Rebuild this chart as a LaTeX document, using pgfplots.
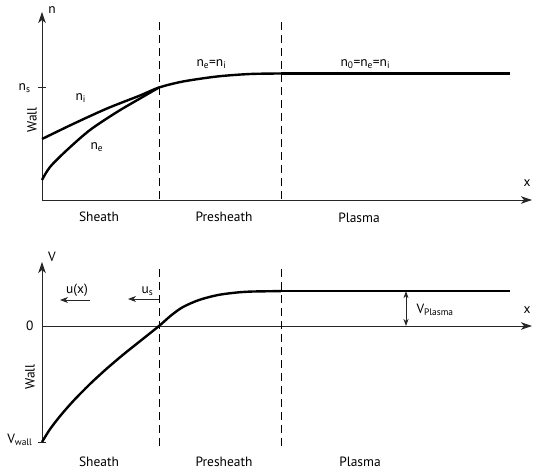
\documentclass[border=0pt]{standalone}
\usepackage{pgfplots}
\pgfplotsset{compat=1.18}
\usetikzlibrary{arrows.meta}
\usepackage{fontspec}
\setmainfont{PT Sans}
\begin{document}
\begin{tikzpicture}[font=\fontsize{13.5}{15}\selectfont]
\useasboundingbox (0,0) rectangle (534bp,-470bp);
\pgfplotsset{
  sk/.style={x=1bp, y=1bp, scale only axis, clip=false, axis lines=middle,
    xtick=\empty, ytick=\empty, xmin=0, xmax=490,
    axis line style={line width=0.9bp, black!85, -{Stealth[length=11bp,width=7.5bp,inset=3bp]}},
    anchor=origin},
  curve/.style={line width=2.4bp, black, no marks, smooth},
  dsh/.style={line width=1bp, black, no marks, dash pattern=on 8bp off 5bp},
  tk/.style={line width=0.9bp, black!85, no marks},
}
% ---------- top panel ----------
\begin{axis}[sk, at={(42bp,-200bp)}, ymin=0, ymax=188]
\addplot[dsh] coordinates {(117,178) (117,0)};
\addplot[dsh] coordinates {(239,178) (239,0)};
\addplot[tk] coordinates {(-4,112.5) (4,112.5)};
% n_i and presheath
\addplot[curve] coordinates {(0,61) (31,76) (65,91.5) (98,104.5) (117,112.5) (141,118.5) (175,123.5) (208,126) (239,126.5)};
% n_e
\addplot[curve] coordinates {(0,20) (8,33) (25,50) (48,70) (75,88) (98,101.5) (117,112.5)};
\addplot[line width=2.4bp, black, no marks] coordinates {(239,126.5) (468,126.5)};
\node at (axis cs:10,190) {n};
\node[anchor=base east] at (axis cs:-8,110) {n\textsubscript{s}};
\node[anchor=base west] at (axis cs:30,100) {n\textsubscript{i}};
\node[anchor=base west] at (axis cs:45,51) {n\textsubscript{e}};
\node[rotate=90] at (axis cs:-10,80) {Wall};
\node[anchor=base west] at (axis cs:151,134) {n\textsubscript{e}=n\textsubscript{i}};
\node[anchor=base west] at (axis cs:295,134) {n\textsubscript{0}=n\textsubscript{e}=n\textsubscript{i}};
\node at (axis cs:485,17) {x};
\node at (axis cs:57,-17) {Sheath};
\node at (axis cs:182,-17) {Presheath};
\node at (axis cs:317,-18) {Plasma};
\end{axis}
% ---------- bottom panel ----------
\begin{axis}[sk, at={(42bp,-326bp)}, ymin=-116, ymax=64]
\addplot[dsh] coordinates {(117,57) (117,-120)};
\addplot[dsh] coordinates {(239,57) (239,-120)};
\addplot[tk] coordinates {(-4,-116) (4,-116)};
\addplot[curve] coordinates {(0,-116) (8,-103.2) (18,-90.2) (31,-75.3) (48,-58.0) (65,-42.4) (81,-28.8) (98,-15.2) (117,0) (129,10.5) (141,19) (157,26) (175,30.8) (191,33.1) (208,34.4) (239,34.9)};
\addplot[line width=2.4bp, black, no marks] coordinates {(239,34.9) (468,34.9)};
\draw[line width=0.9bp, black!85, -{Stealth[length=8bp,width=6bp,inset=2.5bp]}] (axis cs:48,26) -- (axis cs:18,26);
\draw[line width=0.9bp, black!85, -{Stealth[length=8bp,width=6bp,inset=2.5bp]}] (axis cs:117,27) -- (axis cs:86,27);
\draw[line width=0.9bp, black!85, {Stealth[length=7bp,width=5bp,inset=2bp]}-{Stealth[length=7bp,width=5bp,inset=2bp]}] (axis cs:364,34.9) -- (axis cs:364,0);
\node at (axis cs:10,69) {V};
\node[anchor=base] at (axis cs:35,33) {u(x)};
\node[anchor=base west] at (axis cs:96,33) {u\textsubscript{s}};
\node[anchor=east] at (axis cs:-5,0) {0};
\node[anchor=base east] at (axis cs:-6,-117) {V\textsubscript{wall}};
\node[rotate=90] at (axis cs:-12,-51) {Wall};
\node[anchor=base west] at (axis cs:371,13) {V\textsubscript{Plasma}};
\node at (axis cs:485,16) {x};
\node at (axis cs:57,-136) {Sheath};
\node at (axis cs:182,-136) {Presheath};
\node at (axis cs:318,-136) {Plasma};
\end{axis}
\end{tikzpicture}
\end{document}
